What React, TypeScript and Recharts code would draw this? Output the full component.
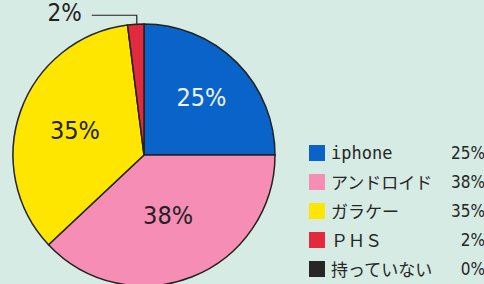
import { Legend, Pie, PieChart, Cell } from "recharts";

const names = ["iphone", "アンドロイド", "ガラケー", "ＰＨＳ", "持っていない"];
const shares = [25, 38, 35, 2, 0];
const colors = ["#0a63c9", "#f58db5", "#ffe600", "#e12a3d", "#262626"];

const RADIAN = Math.PI / 180;
const labelFont = "'Liberation Sans Narrow', 'DejaVu Sans Condensed', sans-serif";
// distance of each label from the centre, as a share of the radius
const labelDist = [0.62, 0.5, 0.56, 1];

function SliceLabel(props: any) {
  const { cx, cy, midAngle, outerRadius, index, value } = props;
  const cos = Math.cos(-midAngle * RADIAN);
  const sin = Math.sin(-midAngle * RADIAN);
  if (index === 3) {
    const x0 = cx + outerRadius * cos;
    const y0 = cy + outerRadius * sin;
    return (
      <g>
        <polyline
          points={`${x0 + 1},${y0 + 1} ${x0 + 1},${y0 - 9} ${x0 - 44},${y0 - 9}`}
          fill="none"
          stroke="#222"
          strokeWidth={1.2}
        />
        <text
          x={x0 - 54}
          y={y0 - 3}
          textAnchor="end"
          fontFamily={labelFont}
          fontSize={24}
          fill="#222"
        >
          {value}%
        </text>
      </g>
    );
  }
  const r = outerRadius * labelDist[index];
  return (
    <text
      x={cx + r * cos}
      y={cy + r * sin}
      textAnchor="middle"
      dominantBaseline="central"
      fontFamily={labelFont}
      fontSize={25}
      fill={index === 0 ? "#eef4ff" : "#222"}
    >
      {value}%
    </text>
  );
}

function ShareLegend() {
  return (
    <div style={{ width: 176 }}>
      {names.map((n, i) => (
        <div
          key={n}
          style={{ display: "flex", alignItems: "center", height: 29 }}
        >
          <span
            style={{
              width: 16,
              height: 16,
              background: colors[i],
              marginRight: 6,
              flex: "none",
            }}
          />
          <span
            style={{
              flex: 1,
              fontFamily: "'DejaVu Sans Mono', 'Noto Sans CJK JP', sans-serif",
              fontSize: 17,
              color: "#262626",
              whiteSpace: "nowrap",
            }}
          >
            {n}
          </span>
          <span
            style={{
              fontFamily: labelFont,
              fontSize: 17,
              color: "#262626",
            }}
          >
            {shares[i]}%
          </span>
        </div>
      ))}
    </div>
  );
}

export default function App() {
  const data = names
    .map((name, i) => ({ name, value: shares[i], color: colors[i] }))
    .filter((d) => d.value > 0);

  return (
    <div
      style={{
        position: "absolute",
        left: 0,
        top: 0,
        width: 484,
        height: 284,
        background: "#d5ebe4",
        overflow: "hidden",
      }}
    >
      <PieChart width={484} height={284} margin={{ top: 0, right: 0, bottom: 0, left: 0 }}>
        <Pie
          data={data}
          dataKey="value"
          nameKey="name"
          cx={144}
          cy={155}
          outerRadius={131}
          startAngle={90}
          endAngle={-270}
          stroke="#222"
          strokeWidth={1.5}
          label={SliceLabel}
          labelLine={false}
          isAnimationActive={false}
        >
          {data.map((d) => (
            <Cell key={d.name} fill={d.color} />
          ))}
        </Pie>
        <Legend
          content={() => <ShareLegend />}
          wrapperStyle={{ left: 309, top: 138, width: 176 }}
        />
      </PieChart>
    </div>
  );
}
